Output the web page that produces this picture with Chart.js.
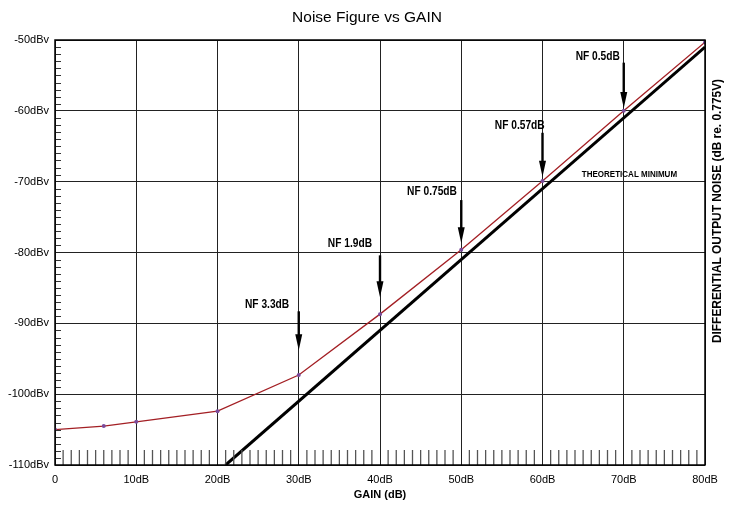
<!DOCTYPE html>
<html>
<head>
<meta charset="utf-8">
<script src="https://cdn.jsdelivr.net/npm/chart.js@4/dist/chart.umd.min.js"></script>
<style>
  body { margin: 0; background: #fff; }
</style>
</head>
<body>
<canvas id="chartContainer" width="734" height="506"></canvas>
<script>
// measured noise (red curve)
const gain = [0, 6, 10, 20, 30, 40, 50, 60, 70, 80];
const outputNoise = [-105.0, -104.5, -103.9, -102.4, -97.3, -88.7, -79.6, -69.9, -60.0, -50.3];

// theoretical minimum (black line)
const theoryGain = [21, 80];
const theoryNoise = [-110, -51];

// noise figure callouts
const nfLabels = ["NF 3.3dB", "NF 1.9dB", "NF 0.75dB", "NF 0.57dB", "NF 0.5dB"];
const nfGain = [30, 40, 50, 60, 70];
const nfLabelGain = [26.1, 36.3, 46.4, 57.2, 66.8];
const nfLabelLevel = [-87.4, -78.8, -71.4, -62.1, -52.4];
const arrowTop = [-88.3, -80.4, -72.6, -63.1, -53.2];
const arrowTip = [-93.8, -86.3, -78.7, -69.3, -59.6];

const theoryLabel = "THEORETICAL MINIMUM";
const theoryLabelGain = 70.7;
const theoryLabelLevel = -69.0;

const xTicks = [0, 10, 20, 30, 40, 50, 60, 70, 80];
const yTicks = [-110, -100, -90, -80, -70, -60, -50];

const sans = "'Liberation Sans', Arial, sans-serif";

// there is no narrow face installed, so squeeze the text horizontally
function narrowText(ctx, text, px, py, sx) {
  ctx.save();
  ctx.translate(px, py);
  ctx.scale(sx, 1);
  ctx.fillText(text, 0, 0);
  ctx.restore();
}

// draws minor ticks, arrows, labels and the right hand title
const extras = {
  id: "extras",
  afterDatasetsDraw(chart) {
    const ctx = chart.ctx;
    const x = chart.scales.x;
    const y = chart.scales.y;
    const area = chart.chartArea;
    ctx.save();

    // minor ticks on left axis
    ctx.strokeStyle = "#333";
    ctx.lineWidth = 1;
    for (let v = -109; v < -50; v++) {
      if (v % 10 === 0) continue;
      const py = Math.round(y.getPixelForValue(v)) + 0.5;
      ctx.beginPath();
      ctx.moveTo(area.left, py);
      ctx.lineTo(area.left + 6, py);
      ctx.stroke();
    }
    // minor ticks on bottom axis
    ctx.strokeStyle = "#555";
    ctx.lineWidth = 1.3;
    for (let g = 1; g < 80; g++) {
      if (g % 10 === 0) continue;
      const px = x.getPixelForValue(g);
      ctx.beginPath();
      ctx.moveTo(px, area.bottom);
      ctx.lineTo(px, area.bottom - 15);
      ctx.stroke();
    }

    // arrows + labels
    ctx.fillStyle = "#000";
    ctx.strokeStyle = "#000";
    ctx.font = "bold 12px " + sans;
    ctx.textAlign = "center";
    ctx.textBaseline = "middle";
    nfLabels.forEach((lbl, i) => {
      const ax = x.getPixelForValue(nfGain[i]);
      const top = y.getPixelForValue(arrowTop[i]);
      const tip = y.getPixelForValue(arrowTip[i]);
      ctx.lineWidth = 2.4;
      ctx.beginPath();
      ctx.moveTo(ax, top);
      ctx.lineTo(ax, tip - 12);
      ctx.stroke();
      ctx.beginPath();
      ctx.moveTo(ax - 3.5, tip - 16);
      ctx.lineTo(ax + 3.5, tip - 16);
      ctx.lineTo(ax, tip);
      ctx.closePath();
      ctx.fill();
      narrowText(ctx, lbl, x.getPixelForValue(nfLabelGain[i]), y.getPixelForValue(nfLabelLevel[i]), 0.85);
    });

    ctx.font = "bold 9px " + sans;
    narrowText(ctx, theoryLabel, x.getPixelForValue(theoryLabelGain), y.getPixelForValue(theoryLabelLevel), 0.89);

    // right axis title
    ctx.font = "bold 12px " + sans;
    ctx.translate(area.right + 13, 211);
    ctx.rotate(-Math.PI / 2);
    narrowText(ctx, "DIFFERENTIAL OUTPUT NOISE (dB re. 0.775V)", 0, 0, 0.99);
    ctx.restore();

    // frame
    ctx.save();
    ctx.strokeStyle = "#000";
    ctx.lineWidth = 1.5;
    ctx.strokeRect(area.left, area.top, area.right - area.left, area.bottom - area.top);
    ctx.restore();
  }
};

const chartCanvas = document.getElementById("chartContainer");
const chart = new Chart(chartCanvas, {
  type: "line",
  data: {
    datasets: [{
      label: "Output noise",
      data: gain.map((g, i) => ({ x: g, y: outputNoise[i] })),
      borderColor: "#a31f24",
      borderWidth: 1.3,
      pointRadius: 2,
      pointBackgroundColor: "#7a4a9a",
      pointBorderColor: "#7a4a9a",
      pointBorderWidth: 0,
      tension: 0,
    }, {
      label: "Theoretical minimum",
      data: theoryGain.map((g, i) => ({ x: g, y: theoryNoise[i] })),
      borderColor: "#000",
      borderWidth: 3,
      pointRadius: 0,
      tension: 0,
    }]
  },
  options: {
    responsive: false,
    animation: false,
    layout: { padding: 0 },
    plugins: {
      legend: { display: false },
      tooltip: { enabled: false },
      title: {
        display: true,
        text: "Noise Figure vs GAIN",
        color: "#000",
        font: { family: sans, size: 15.5, weight: "normal" },
        padding: { top: 8, bottom: 13.4 },
      },
    },
    scales: {
      x: {
        type: "linear",
        min: 0,
        max: 80,
        afterBuildTicks: s => { s.ticks = xTicks.map(v => ({ value: v })); },
        ticks: {
          color: "#000",
          font: { family: sans, size: 11 },
          padding: 8,
          maxRotation: 0,
          callback: v => (v === 0 ? "0" : v + "dB"),
        },
        grid: { color: "#222", lineWidth: 1, drawTicks: false },
        border: { display: false },
        title: {
          display: true,
          text: "GAIN (dB)",
          color: "#000",
          font: { family: sans, size: 11, weight: "bold" },
          padding: { top: 0, bottom: 4 },
        },
        afterFit: s => { s.height = 41; },
      },
      y: {
        min: -110,
        max: -50,
        afterBuildTicks: s => { s.ticks = yTicks.map(v => ({ value: v })); },
        ticks: {
          color: "#000",
          font: { family: sans, size: 11 },
          padding: 6,
          callback: v => v + "dBv",
        },
        grid: { color: "#222", lineWidth: 1, drawTicks: false },
        border: { display: false },
        afterFit: s => { s.width = 55; },
      },
      y2: {
        position: "right",
        min: 0,
        max: 1,
        ticks: { display: false },
        grid: { display: false },
        border: { display: false },
        afterFit: s => { s.width = 29; },
      },
    },
  },
  plugins: [extras],
});
</script>
</body>
</html>
